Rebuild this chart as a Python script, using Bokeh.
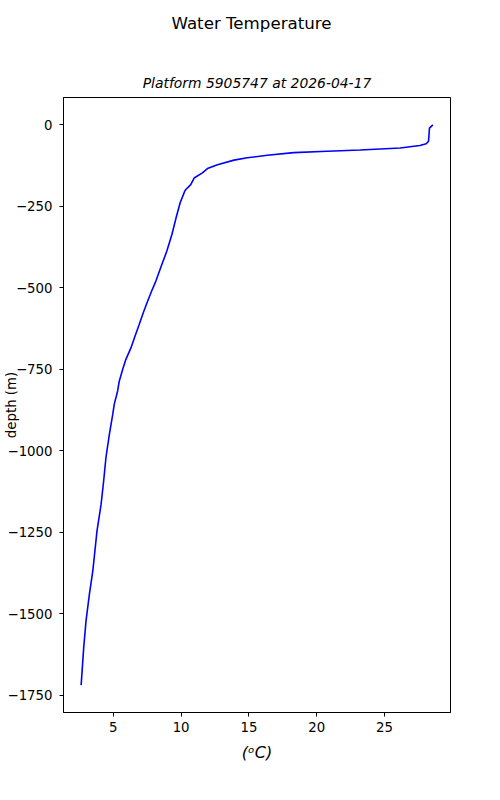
from bokeh.plotting import figure
from bokeh.models import Range1d, FixedTicker, Title
from bokeh.embed import file_html
from bokeh.resources import INLINE

# ---- data ----
temperature = [28.56, 28.48, 28.31, 28.24, 28.07, 27.6, 26.15, 23.2, 20.76, 18.3,
               16.35, 14.88, 13.9, 12.68, 11.94, 11.57, 10.96, 10.71, 10.35, 10.27,
               9.93, 9.63, 9.32, 8.95, 8.58, 8.14, 7.82, 7.53, 7.21, 6.91,
               6.60, 6.30, 5.93, 5.69, 5.44, 5.32, 5.07, 4.96, 4.71, 4.46,
               4.29, 4.10, 3.80, 3.49, 3.24, 2.99, 2.82, 2.63]
depth = [-1, -4, -11, -51, -59, -64, -72, -78, -82, -86,
         -94, -102, -109, -123, -135, -148, -164, -184, -199, -204,
         -240, -286, -337, -388, -429, -480, -511, -542, -577, -613,
         -649, -685, -720, -751, -787, -817, -858, -889, -950, -1021,
         -1093, -1165, -1246, -1369, -1440, -1522, -1604, -1719]

x_ticks = [5, 10, 15, 20, 25]
y_ticks = [0, -250, -500, -750, -1000, -1250, -1500, -1750]
y_tick_labels = ["0", "\u2212250", "\u2212500", "\u2212750", "\u22121000",
                 "\u22121250", "\u22121500", "\u22121750"]

main_title = "Water Temperature"
sub_title = "Platform 5905747 at 2026-04-17"
x_label = "(\u1d52C)"
y_label = "depth (m)"

FONT = "DejaVu Sans"

p = figure(width=492, height=790, output_backend="svg", toolbar_location=None,
           x_range=Range1d(1.33, 29.86), y_range=Range1d(-1803, 83),
           min_border_left=63, min_border_right=42, min_border_top=97,
           min_border_bottom=78)
p.background_fill_color = "white"
p.border_fill_color = "white"
p.outline_line_color = "black"
p.outline_line_width = 1
p.grid.visible = False

p.line(temperature, depth, line_color="#0000ff", line_width=1.6)

for ax in (p.xaxis[0], p.yaxis[0]):
    ax.axis_line_color = "black"
    ax.major_tick_line_color = "black"
    ax.major_tick_out = 4
    ax.major_tick_in = 0
    ax.minor_tick_line_color = None
    ax.major_label_text_font = FONT
    ax.major_label_text_font_size = "13.3px"
    ax.major_label_text_color = "black"
    ax.axis_label_text_color = "black"
    ax.axis_label_text_font = FONT

p.xaxis.ticker = FixedTicker(ticks=x_ticks)
p.yaxis.ticker = FixedTicker(ticks=y_ticks)
p.yaxis.major_label_overrides = dict(zip(y_ticks, y_tick_labels))
p.xaxis.major_label_standoff = 5
p.yaxis.major_label_standoff = 7

p.xaxis.axis_label = x_label
p.xaxis.axis_label_text_font_size = "16px"
p.xaxis.axis_label_text_font_style = "italic"
p.xaxis.axis_label_standoff = 8

p.yaxis.axis_label = y_label
p.yaxis.axis_label_text_font_size = "13.3px"
p.yaxis.axis_label_text_font_style = "normal"
p.yaxis.axis_label_standoff = -14

# outer title (figure suptitle), centred on the whole figure
p.title.text = main_title
p.title.align = "left"
p.title.offset = 108
p.title.text_font = FONT
p.title.text_font_size = "16.67px"
p.title.text_font_style = "normal"
p.title.text_color = "black"
p.title.standoff = 0

# inner title (axes title), closest to the frame
p.add_layout(Title(text=sub_title, align="center", text_font=FONT,
                   text_font_size="13.9px", text_font_style="italic",
                   text_color="black", standoff=13), "above")
# blank spacer between the two titles
p.add_layout(Title(text=" ", align="center", text_font=FONT,
                   text_font_size="13.3px", standoff=17), "above")

open("out.html", "w").write(file_html(p, INLINE))
